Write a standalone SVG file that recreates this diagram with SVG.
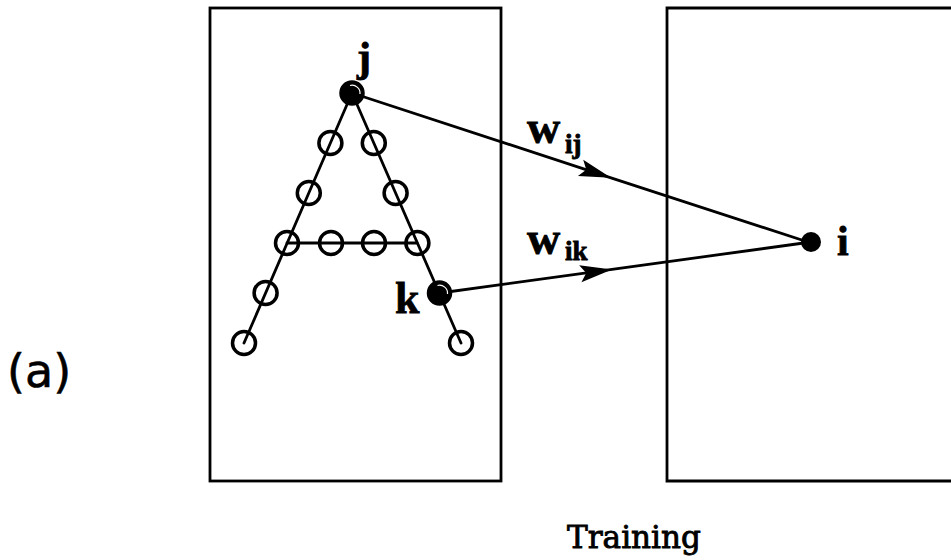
<svg xmlns="http://www.w3.org/2000/svg" width="951" height="560" viewBox="0 0 951 560">
  <style>
    .frame { fill: none; stroke: #000; stroke-width: 2.8; }
    .edge { fill: none; stroke: #000; stroke-width: 2.8; stroke-linecap: round; }
    .unit { fill: none; stroke: #000; stroke-width: 3.5; }
    .active { fill: #000; stroke: #000; stroke-width: 1.5; }
    .gleam { fill: none; stroke: #fff; stroke-width: 1.2; }
    .lbl { font-family: "Liberation Serif", "Times New Roman", serif; font-weight: bold; fill: #000; stroke: #000; stroke-width: 0.8; }
    .cap { font-family: "DejaVu Serif", "Liberation Serif", serif; fill: #000; stroke: #000; stroke-width: 0.9; }
    .tag { font-family: "DejaVu Sans", "Liberation Sans", sans-serif; fill: #000; stroke: #000; stroke-width: 0.6; }
  </style>
  <defs>
    <marker id="head" viewBox="-34 -10 36 20" refX="0" refY="0" markerWidth="36" markerHeight="20" markerUnits="userSpaceOnUse" orient="auto">
      <path d="M0,0 L-32,-8.5 L-26,0 L-32,8.5 Z" fill="#000"/>
    </marker>
  </defs>

  <rect width="951" height="560" fill="#fff"/>

  <!-- input and output planes -->
  <g id="plane-input">
    <rect class="frame" x="210" y="8" width="291" height="473"/>
  </g>
  <g id="plane-output">
    <path class="frame" d="M960,8 H667 V481 H960"/>
  </g>

  <!-- connectors: strokes of the letter and the two weights -->
  <g id="connectors">
    <line class="edge" x1="352" y1="93" x2="244" y2="343"/>
    <line class="edge" x1="352" y1="93" x2="461" y2="343"/>
    <line class="edge" x1="287" y1="243" x2="417" y2="243"/>
    <path class="edge" d="M352,93 L611,177.8 L811,243" marker-mid="url(#head)"/>
    <path class="edge" d="M440,293 L612,269.4 L811,242" marker-mid="url(#head)"/>
    <text class="lbl" x="527" y="143" font-size="46">w</text>
    <text class="lbl" x="565" y="153" font-size="27">ij</text>
    <text class="lbl" x="527" y="254" font-size="46">w</text>
    <text class="lbl" x="565" y="260" font-size="27">ik</text>
  </g>

  <!-- units forming the letter A -->
  <g id="unit-j">
    <circle class="active" cx="352" cy="93" r="12"/>
    <path class="gleam" d="M350,85.5 A8,8 0 0 1 360,94"/>
    <text class="lbl" x="357" y="71" font-size="42">j</text>
  </g>
  <g id="unit-l1"><circle class="unit" cx="330.4" cy="143" r="11.5"/></g>
  <g id="unit-l2"><circle class="unit" cx="308.8" cy="193" r="11.5"/></g>
  <g id="unit-l3"><circle class="unit" cx="287" cy="243" r="11.5"/></g>
  <g id="unit-l4"><circle class="unit" cx="265.6" cy="293" r="11.5"/></g>
  <g id="unit-l5"><circle class="unit" cx="244" cy="343" r="11.5"/></g>
  <g id="unit-r1"><circle class="unit" cx="373.8" cy="143" r="11.5"/></g>
  <g id="unit-r2"><circle class="unit" cx="395.6" cy="193" r="11.5"/></g>
  <g id="unit-r3"><circle class="unit" cx="417.4" cy="243" r="11.5"/></g>
  <g id="unit-k">
    <circle class="active" cx="439.5" cy="293" r="12"/>
    <path class="gleam" d="M437.5,285.5 A8,8 0 0 1 447.5,294"/>
    <text class="lbl" x="395" y="313" font-size="44">k</text>
  </g>
  <g id="unit-r5"><circle class="unit" cx="461" cy="343" r="11.5"/></g>
  <g id="unit-c1"><circle class="unit" cx="331" cy="243" r="11.5"/></g>
  <g id="unit-c2"><circle class="unit" cx="374" cy="243" r="11.5"/></g>

  <!-- output unit -->
  <g id="unit-i">
    <circle cx="811" cy="242" r="10" fill="#000"/>
    <text class="lbl" x="837" y="255" font-size="42">i</text>
  </g>

  <!-- captions -->
  <g id="caption-panel">
    <text class="tag" x="7" y="387" font-size="46">(a)</text>
  </g>
  <g id="caption-title">
    <text class="cap" x="567" y="548" font-size="32" textLength="134" lengthAdjust="spacingAndGlyphs">Training</text>
  </g>
</svg>
